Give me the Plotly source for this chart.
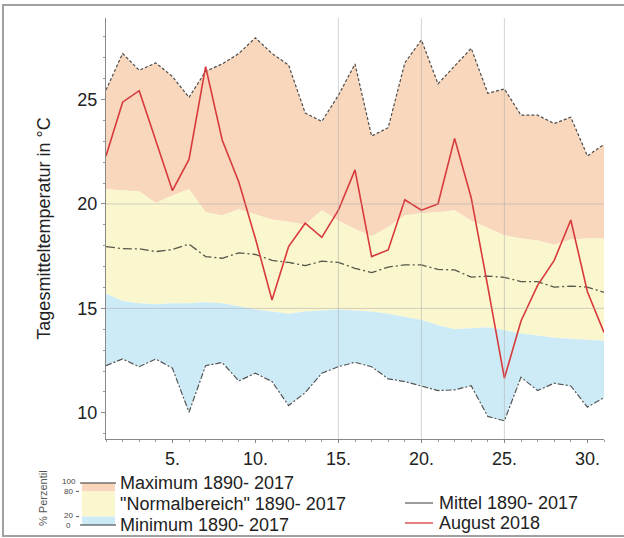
import plotly.graph_objects as go

days = list(range(1, 32))
tick_days = [5, 10, 15, 20, 25, 30]
tick_labels = ["5.", "10.", "15.", "20.", "25.", "30."]
y_ticks = [10, 15, 20, 25]

maximum = [25.45, 27.2, 26.4, 26.75, 26.1, 25.1, 26.35, 26.7, 27.2, 27.95, 27.2, 26.65,
           24.35, 23.95, 25.2, 26.7, 23.25, 23.65, 26.75, 27.85, 25.75, 26.6, 27.45,
           25.3, 25.5, 24.25, 24.25, 23.85, 24.15, 22.3, 22.85]
p80 = [20.7, 20.65, 20.6, 20.05, 20.4, 20.7, 19.6, 19.45, 19.75, 19.5, 19.25, 19.15,
       19.0, 19.7, 19.2, 18.8, 18.45, 18.9, 19.45, 19.55, 19.6, 19.7, 19.2, 18.85,
       18.5, 18.35, 18.25, 18.05, 18.3, 18.35, 18.35]
p20 = [15.7, 15.35, 15.25, 15.2, 15.25, 15.25, 15.3, 15.25, 15.1, 14.95, 14.85, 14.75,
       14.85, 14.9, 14.95, 14.9, 14.85, 14.75, 14.6, 14.45, 14.2, 14.0, 14.05, 14.1,
       13.95, 13.8, 13.7, 13.6, 13.55, 13.5, 13.45]
minimum = [12.26, 12.58, 12.21, 12.58, 12.14, 10.03, 12.26, 12.41, 11.53, 11.9, 11.5,
           10.35, 10.97, 11.9, 12.21, 12.42, 12.21, 11.63, 11.5, 11.29, 11.07, 11.1,
           11.3, 9.83, 9.62, 11.71, 11.07, 11.42, 11.29, 10.27, 10.73]
mittel = [17.96, 17.86, 17.85, 17.72, 17.82, 18.08, 17.48, 17.4, 17.66, 17.58, 17.3,
          17.2, 17.05, 17.26, 17.2, 16.92, 16.71, 16.98, 17.08, 17.08, 16.87, 16.84,
          16.5, 16.55, 16.49, 16.28, 16.28, 16.02, 16.07, 16.02, 15.77]
august2018 = [22.3, 24.87, 25.42, 23.03, 20.64, 22.13, 26.57, 23.06, 21.05, 18.35, 15.4,
              17.96, 19.08, 18.4, 19.7, 21.63, 17.48, 17.8, 20.2, 19.7, 20.0, 23.14,
              20.3, 16.04, 11.66, 14.4, 16.1, 17.3, 19.23, 15.8, 13.85]

PEACH = "#F8D7BD"
YELLOW = "#FAF6CD"
BLUE = "#CDEBF7"
FONT = "Liberation Sans, Arial, sans-serif"
TXT = "#222222"

fig = go.Figure()
# bands
fig.add_trace(go.Scatter(x=days, y=p80, mode="lines", line=dict(width=0), showlegend=False, hoverinfo="skip"))
fig.add_trace(go.Scatter(x=days, y=maximum, mode="lines", line=dict(width=0), fill="tonexty",
                         fillcolor=PEACH, showlegend=False, hoverinfo="skip"))
fig.add_trace(go.Scatter(x=days, y=p20, mode="lines", line=dict(width=0), showlegend=False, hoverinfo="skip"))
fig.add_trace(go.Scatter(x=days, y=p80, mode="lines", line=dict(width=0), fill="tonexty",
                         fillcolor=YELLOW, showlegend=False, hoverinfo="skip"))
fig.add_trace(go.Scatter(x=days, y=minimum, mode="lines", line=dict(width=0), showlegend=False, hoverinfo="skip"))
fig.add_trace(go.Scatter(x=days, y=p20, mode="lines", line=dict(width=0), fill="tonexty",
                         fillcolor=BLUE, showlegend=False, hoverinfo="skip"))

# lines
fig.add_trace(go.Scatter(x=days, y=maximum, mode="lines", name="Maximum 1890- 2017",
                         line=dict(color="#4d4d4d", width=1.2, dash="3px,2px"), showlegend=False))
fig.add_trace(go.Scatter(x=days, y=minimum, mode="lines", name="Minimum 1890- 2017",
                         line=dict(color="#555555", width=1.2, dash="6px,2px,2px,2px"), showlegend=False))
fig.add_trace(go.Scatter(x=days, y=mittel, mode="lines", name="Mittel 1890- 2017",
                         line=dict(color="#55574a", width=1.3, dash="9px,3px,2px,3px"), showlegend=False))
fig.add_trace(go.Scatter(x=days, y=august2018, mode="lines", name="August 2018",
                         line=dict(color="#D83A3C", width=1.6), showlegend=False))

L, R, T, B = 106, 20, 18, 99
W, H = 624, 538
PW, PH = W - L - R, H - T - B


def px(x):
    return (x - L) / PW


def py(y):
    return (H - B - y) / PH


shapes = []
# gridlines over fills
for d in [15, 20, 25]:
    shapes.append(dict(type="line", xref="x", yref="paper", x0=d, x1=d, y0=0, y1=1,
                       line=dict(color="rgba(170,170,170,0.5)", width=1), layer="above"))
for v in [15, 20]:
    shapes.append(dict(type="line", xref="paper", yref="y", x0=0, x1=1, y0=v, y1=v,
                       line=dict(color="rgba(170,170,170,0.5)", width=1), layer="above"))

# legend colour bar
shapes.append(dict(type="rect", xref="paper", yref="paper", x0=px(82), x1=px(115), y0=py(491.4), y1=py(483),
                   fillcolor=PEACH, line=dict(width=0)))
shapes.append(dict(type="rect", xref="paper", yref="paper", x0=px(82), x1=px(115), y0=py(516.6), y1=py(491.4),
                   fillcolor=YELLOW, line=dict(width=0)))
shapes.append(dict(type="rect", xref="paper", yref="paper", x0=px(82), x1=px(115), y0=py(525), y1=py(516.6),
                   fillcolor=BLUE, line=dict(width=0)))
shapes.append(dict(type="line", xref="paper", yref="paper", x0=px(80), x1=px(116), y0=py(483), y1=py(483),
                   line=dict(color="#333", width=1.2)))
shapes.append(dict(type="line", xref="paper", yref="paper", x0=px(80), x1=px(116), y0=py(525), y1=py(525),
                   line=dict(color="#333", width=1.2)))
for yy in [491.4, 516.6]:
    shapes.append(dict(type="line", xref="paper", yref="paper", x0=px(76), x1=px(79), y0=py(yy), y1=py(yy),
                       line=dict(color="#555", width=1)))
# legend lines right
shapes.append(dict(type="line", xref="paper", yref="paper", x0=px(405), x1=px(433), y0=py(503), y1=py(503),
                   line=dict(color="#666", width=1.3)))
shapes.append(dict(type="line", xref="paper", yref="paper", x0=px(405), x1=px(433), y0=py(523), y1=py(523),
                   line=dict(color="#D83A3C", width=1.3)))
# outer frame
shapes.append(dict(type="rect", xref="paper", yref="paper", x0=px(3), x1=px(626), y0=py(536), y1=py(5),
                   line=dict(color="#a0a0a0", width=2), fillcolor="rgba(0,0,0,0)", layer="above"))

annotations = []


def txt(x, y, s, size=18, xanchor="left", color=TXT, angle=0):
    annotations.append(dict(xref="paper", yref="paper", x=px(x), y=py(y), text=s, showarrow=False,
                            xanchor=xanchor, yanchor="middle", textangle=angle, borderpad=0,
                            font=dict(family=FONT, size=size, color=color)))


txt(119, 483, "Maximum 1890- 2017")
txt(119, 504, "\"Normalbereich\" 1890- 2017")
txt(119, 525, "Minimum 1890- 2017")
txt(438, 503, "Mittel 1890- 2017")
txt(438, 523, "August 2018")
txt(77, 481.5, "100", size=8, xanchor="right", color="#444")
txt(74, 491.5, "80", size=8, xanchor="right", color="#444")
txt(74, 515.5, "20", size=8, xanchor="right", color="#444")
txt(72, 525.5, "0", size=8, xanchor="right", color="#444")
txt(43, 498, "% Perzentil", size=11, xanchor="center", color="#555", angle=-90)

fig.update_layout(
    width=W, height=H,
    margin=dict(l=L, r=R, t=T, b=B),
    paper_bgcolor="white", plot_bgcolor="white",
    font=dict(family=FONT, size=18, color=TXT),
    shapes=shapes, annotations=annotations,
    showlegend=False,
)
fig.update_xaxes(range=[1, 31], tickvals=tick_days, ticktext=tick_labels, showgrid=False,
                 showline=True, linecolor="#888", linewidth=1, ticks="outside", ticklen=3,
                 tickcolor="#888", zeroline=False,
                 minor=dict(dtick=1, tick0=1, ticks="outside", ticklen=2, tickcolor="#999", showgrid=False),
                 tickfont=dict(family=FONT, size=18, color=TXT))
fig.update_yaxes(range=[8.75, 28.9], tickvals=y_ticks, showgrid=False,
                 showline=True, linecolor="#888", linewidth=1, ticks="outside", ticklen=4,
                 tickcolor="#888", zeroline=False,
                 minor=dict(dtick=1, ticks="outside", ticklen=2, tickcolor="#999", showgrid=False),
                 tickfont=dict(family=FONT, size=18, color=TXT),
                 title=dict(text="Tagesmitteltemperatur in °C", standoff=22,
                            font=dict(family=FONT, size=18, color=TXT)))

fig.write_html("out.html")
